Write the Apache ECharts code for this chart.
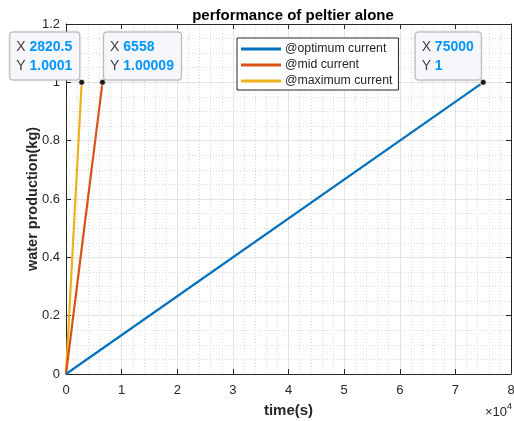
<!DOCTYPE html>
<html><head><meta charset="utf-8">
<script src="https://cdn.jsdelivr.net/npm/echarts@6/dist/echarts.min.js"></script>
<style>html,body{margin:0;padding:0;background:#fff}#c{width:514px;height:421px}</style>
</head><body><div id="c"></div>
<script>
const seriesNames = ['@optimum current', '@mid current', '@maximum current'];
const seriesColors = ['#0072BD', '#D95319', '#EDB120'];
const optimumData = [[0, 0], [75000, 1]];
const midData = [[0, 0], [6558, 1.00009]];
const maxData = [[0, 0], [2820.5, 1.0001]];
const xTickLabels = ['0','1','2','3','4','5','6','7','8'];
const yTickLabels = ['0','0.2','0.4','0.6','0.8','1','1.2'];
const tips = [
  {x: 75000, y: 1, xs: '75000', ys: '1', side: 'left'},
  {x: 6558, y: 1.00009, xs: '6558', ys: '1.00009', side: 'right'},
  {x: 2820.5, y: 1.0001, xs: '2820.5', ys: '1.0001', side: 'left'}
];
const FONT = '"Liberation Sans", Arial, sans-serif';
const dark = '#262626';

const chart = echarts.init(document.getElementById('c'), null, {renderer: 'canvas'});

function tipPoint(t) {
  return {
    coord: [t.x, t.y],
    symbol: 'circle', symbolSize: 6,
    itemStyle: {color: '#1a1a1a', borderColor: '#FFFFE0', borderWidth: 0.8},
    label: {
      show: true,
      position: t.side === 'left' ? [1, 0.5] : [5, 0.5],
      align: t.side === 'left' ? 'right' : 'left',
      verticalAlign: 'bottom',
      formatter: '{k|X }{v|' + t.xs + '}\n{k|Y }{v|' + t.ys + '}',
      backgroundColor: '#F7F7FB',
      borderColor: '#BDBDBD',
      borderWidth: 1,
      borderRadius: 3,
      padding: [5, 7, 4, 6],
      shadowColor: 'rgba(0,0,0,0.15)', shadowBlur: 2,
      rich: {
        k: {fontFamily: FONT, fontSize: 14, color: '#404040', lineHeight: 19, align: 'left'},
        v: {fontFamily: FONT, fontSize: 14, color: '#0096FF', fontWeight: 'bold', lineHeight: 19, align: 'left'}
      }
    }
  };
}

const dataArr = [optimumData, midData, maxData];
const series = seriesNames.map((n, i) => ({
  name: n, type: 'line', data: dataArr[i], showSymbol: false, symbol: 'none',
  lineStyle: {color: seriesColors[i], width: 2.2}, itemStyle: {color: seriesColors[i]},
  animation: false, z: 3 - i + 2,
  markPoint: {data: [tipPoint(tips[i])], animation: false, z: 10}
}));

const axisLine = {show: true, onZero: false, lineStyle: {color: dark, width: 1}};
const axisTick = {show: true, inside: true, length: 5, lineStyle: {color: dark}};

chart.setOption({
  animation: false,
  backgroundColor: '#fff',
  title: {
    text: 'performance of peltier alone', left: 288, top: 3, textAlign: 'center',
    textStyle: {fontFamily: FONT, fontSize: 15, fontWeight: 'bold', color: '#000'}
  },
  grid: {left: 66, right: 3, top: 24, bottom: 47, containLabel: false, outerBoundsMode: 'none'},
  legend: {
    data: seriesNames, orient: 'vertical', left: 237, top: 38,
    icon: 'rect', itemWidth: 40, itemHeight: 3, itemGap: 4,
    padding: [5, 6, 3, 4],
    borderColor: dark, borderWidth: 1, backgroundColor: '#fff',
    textStyle: {fontFamily: FONT, fontSize: 12.3, color: dark, padding: [0, 0, 0, -1]},
  },
  xAxis: [{
    type: 'value', min: 0, max: 80000, interval: 10000, position: 'bottom',
    name: 'time(s)', nameLocation: 'middle', nameGap: 29,
    nameTextStyle: {fontFamily: FONT, fontSize: 15, fontWeight: 'bold', color: dark},
    axisLabel: {fontFamily: FONT, fontSize: 13, color: dark, margin: 10,
      formatter: v => xTickLabels[Math.round(v / 10000)]},
    splitLine: {show: true, lineStyle: {color: '#E3E3E3', width: 1}},
    minorTick: {show: false, splitNumber: 5},
    minorSplitLine: {show: true, lineStyle: {color: '#DADADA', type: [1, 2], width: 1}},
    axisLine: axisLine, axisTick: axisTick
  }, {
    type: 'value', min: 0, max: 80000, interval: 10000, position: 'top',
    axisLabel: {show: false}, splitLine: {show: false},
    axisLine: axisLine, axisTick: axisTick
  }],
  yAxis: [{
    type: 'value', min: 0, max: 1.2, interval: 0.2, position: 'left',
    name: 'water production(kg)', nameLocation: 'middle', nameGap: 26, nameMoveOverlap: false,
    nameTextStyle: {fontFamily: FONT, fontSize: 14.5, fontWeight: 'bold', color: dark},
    axisLabel: {fontFamily: FONT, fontSize: 13, color: dark, margin: 6,
      formatter: v => yTickLabels[Math.round(v / 0.2)]},
    splitLine: {show: true, lineStyle: {color: '#E3E3E3', width: 1}},
    minorTick: {show: false, splitNumber: 4},
    minorSplitLine: {show: true, lineStyle: {color: '#DADADA', type: [1, 2], width: 1}},
    axisLine: axisLine, axisTick: axisTick
  }, {
    type: 'value', min: 0, max: 1.2, interval: 0.2, position: 'right',
    axisLabel: {show: false}, splitLine: {show: false},
    axisLine: axisLine, axisTick: axisTick
  }],
  graphic: [{
    type: 'text', right: 2, top: 402,
    style: {
      text: '{a|×10}{b|4}', fill: dark,
      rich: {a: {fontFamily: FONT, fontSize: 13, color: dark, verticalAlign: 'bottom'},
             b: {fontFamily: FONT, fontSize: 9, color: dark, verticalAlign: 'top', padding: [0,0,8,0]}}
    }
  }],
  series: series
});
</script></body></html>
